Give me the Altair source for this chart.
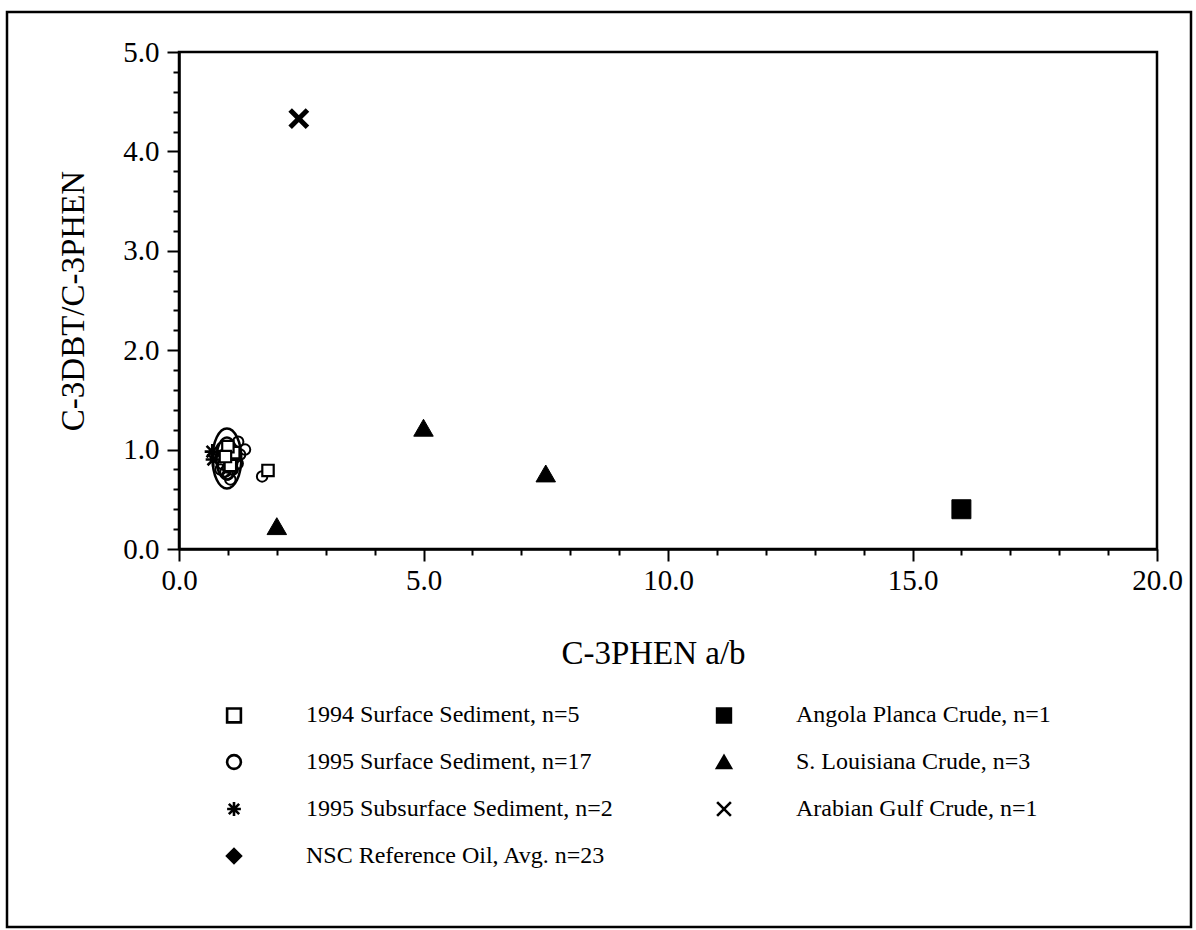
import altair as alt
import pandas as pd

# Series names, in legend order (left column first, then right column)
series_order = [
    "1994 Surface Sediment, n=5",
    "1995 Surface Sediment, n=17",
    "1995 Subsurface Sediment, n=2",
    "NSC Reference Oil, Avg. n=23",
    "Angola Planca Crude, n=1",
    "S. Louisiana Crude, n=3",
    "Arabian Gulf Crude, n=1",
]

# C-3PHEN a/b (x) and C-3DBT/C-3PHEN (y) for each group
surf95_x = [0.85, 0.90, 0.95, 1.00, 1.05, 1.10, 1.15, 1.10, 0.92, 1.00, 1.20, 1.25, 0.88, 1.05, 1.35, 1.21, 1.70]
surf95_y = [0.80, 0.85, 0.78, 0.82, 0.88, 0.80, 0.92, 1.00, 0.95, 0.75, 0.86, 0.95, 1.02, 0.70, 1.00, 1.08, 0.73]
subsurf95_x = [0.68, 0.70]
subsurf95_y = [0.98, 0.90]
nsc_x = [1.00]
nsc_y = [0.90]
surf94_x = [1.05, 1.12, 1.00, 0.95, 1.82]
surf94_y = [0.84, 0.97, 1.03, 0.93, 0.79]
angola_x = [16.0]
angola_y = [0.40]
louisiana_x = [5.0, 7.5, 2.0]
louisiana_y = [1.22, 0.76, 0.23]
arabian_x = [2.45]
arabian_y = [4.33]

# Reference-oil spread, drawn as two outlines round the average
spread_x = [0.98]
spread_y = [0.91]

x_ticks = [float(v) for v in range(0, 21)]
y_ticks = [0.0, 0.2, 0.4, 0.6, 0.8, 1.0, 1.2, 1.4, 1.6, 1.8, 2.0, 2.2, 2.4, 2.6, 2.8,
           3.0, 3.2, 3.4, 3.6, 3.8, 4.0, 4.2, 4.4, 4.6, 4.8, 5.0]

X_SHAPE = "M-1,-1L1,1M-1,1L1,-1"
STAR_SHAPE = "M0,-1L0,1M-1,0L1,0M-0.75,-0.75L0.75,0.75M-0.75,0.75L0.75,-0.75"


def ellipse_path(rx):
    k = 0.5523
    return (f"M0,-1C{k*rx:.4f},-1 {rx},-{k} {rx},0C{rx},{k} {k*rx:.4f},1 0,1"
            f"C-{k*rx:.4f},1 -{rx},{k} -{rx},0C-{rx},-{k} -{k*rx:.4f},-1 0,-1Z")


shape_range = ["square", "circle", STAR_SHAPE, "diamond", "square", "triangle-up", X_SHAPE]
fill_range = ["white", "transparent", "black", "black", "black", "black", "black"]

FONT = "Liberation Serif"

legend = alt.Legend(
    orient="none", legendX=43, legendY=651, columns=2, columnPadding=98,
    rowPadding=21, labelOffset=60, labelFont=FONT, labelFontSize=24,
    labelColor="black", labelLimit=600, title=None, padding=0,
    symbolSize=190, symbolStrokeWidth=2.6, symbolStrokeColor="black",
)

x_enc = alt.X(
    "x:Q",
    scale=alt.Scale(domain=[0, 20], nice=False, zero=False),
    axis=alt.Axis(
        title="C-3PHEN a/b", values=x_ticks,
        labelExpr="datum.value % 5 === 0 ? format(datum.value, '.1f') : ''",
        tickSize={"condition": {"test": "datum.value % 5 === 0", "value": 12}, "value": 6},
        labelOverlap=False, labelFlush=False, grid=False,
        labelPadding=5, titlePadding=42, titleX=474,
    ),
)
y_enc = alt.Y(
    "y:Q",
    scale=alt.Scale(domain=[0, 5], nice=False, zero=False),
    axis=alt.Axis(
        title="C-3DBT/C-3PHEN", values=y_ticks,
        labelExpr="abs(datum.value - round(datum.value)) < 0.001 ? format(datum.value, '.1f') : ''",
        tickSize={"condition": {"test": "abs(datum.value - round(datum.value)) < 0.001", "value": 12}, "value": 6},
        labelOverlap=False, labelFlush=False, grid=False,
        labelPadding=8, titlePadding=32,
    ),
)

spread = pd.DataFrame({"x": spread_x, "y": spread_y})
outer = alt.Chart(spread).mark_point(
    shape=ellipse_path(0.48), size=3600, filled=False, stroke="black", strokeWidth=2.5, opacity=1
).encode(x=x_enc, y=y_enc)
inner = alt.Chart(spread).mark_point(
    shape=ellipse_path(0.5), size=1764, filled=False, stroke="black", strokeWidth=2.5, opacity=1
).encode(x=x_enc, y=y_enc)


def group_layer(name, xs, ys, size, stroke_width):
    data = pd.DataFrame({"series": [name] * len(xs), "x": xs, "y": ys})
    return alt.Chart(data).mark_point(
        filled=True, opacity=1, size=size, strokeWidth=stroke_width
    ).encode(
        x=x_enc,
        y=y_enc,
        shape=alt.Shape("series:N", scale=alt.Scale(domain=series_order, range=shape_range), legend=legend),
        fill=alt.Fill("series:N", scale=alt.Scale(domain=series_order, range=fill_range), legend=legend),
        stroke=alt.Stroke("series:N", scale=alt.Scale(domain=series_order, range=["black"] * 7), legend=legend),
    )


# drawing order: open circles underneath, squares and crudes on top
layers = [
    group_layer("1995 Surface Sediment, n=17", surf95_x, surf95_y, 110, 2),
    group_layer("1995 Subsurface Sediment, n=2", subsurf95_x, subsurf95_y, 230, 2.6),
    group_layer("NSC Reference Oil, Avg. n=23", nsc_x, nsc_y, 230, 1),
    group_layer("1994 Surface Sediment, n=5", surf94_x, surf94_y, 130, 2.2),
    group_layer("Angola Planca Crude, n=1", angola_x, angola_y, 360, 1),
    group_layer("S. Louisiana Crude, n=3", louisiana_x, louisiana_y, 380, 1),
    group_layer("Arabian Gulf Crude, n=1", arabian_x, arabian_y, 300, 5),
]

# Outer frame around the whole figure
frame = alt.Chart(spread).mark_rect(
    fill=None, stroke="black", strokeWidth=2.5
).encode(
    x=alt.value(-172), x2=alt.value(1012), y=alt.value(-40), y2=alt.value(875)
)

chart = alt.layer(frame, outer, inner, *layers).properties(
    width=978, height=497,
    autosize=alt.AutoSizeParams(type="none"),
    padding={"left": 179, "top": 52, "right": 39, "bottom": 381},
    background="white",
).configure_view(
    stroke="black", strokeWidth=2.5
).configure_axis(
    domainColor="black", domainWidth=2.5, tickColor="black", tickWidth=2,
    labelOverlap=False, labelFlush=False,
    labelFont=FONT, labelFontSize=29, labelColor="black",
    titleFont=FONT, titleFontSize=33, titleFontWeight="normal", titleColor="black",
)

chart.save("out.html", embed_options={"renderer": "svg", "actions": False})
